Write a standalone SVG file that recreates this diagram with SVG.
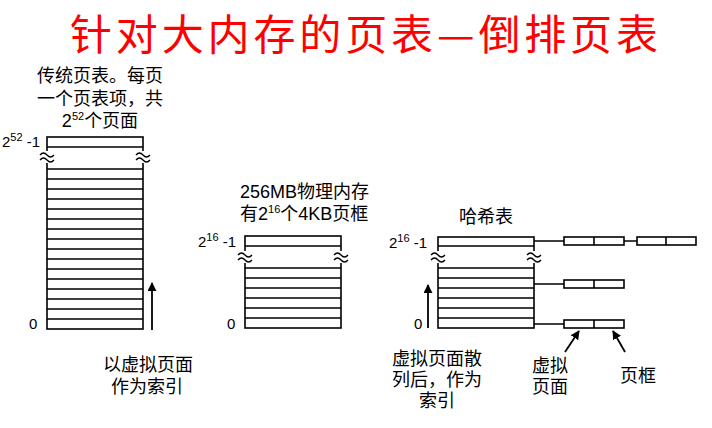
<svg xmlns="http://www.w3.org/2000/svg" width="712" height="428" viewBox="0 0 712 428">
  <defs>
    <style>
      .cjk { font-family: "Liberation Sans", "Noto Sans CJK SC", sans-serif; font-size: 18px; fill: #000; }
      .lbl { font-family: "Liberation Sans", "Noto Sans CJK SC", sans-serif; font-size: 15px; fill: #000; }
      .sup { font-size: 11px; }
      .title { font-family: "Noto Sans CJK SC", sans-serif; font-size: 42px; fill: #ff0000; }
      .tbl { fill: #fff; stroke: #000; stroke-width: 1.6; }
      .row { stroke: #000; stroke-width: 1.6; fill: none; }
      .wave { fill: none; stroke: #000; stroke-width: 1.3; }
      .wavebg { fill: #fff; stroke: none; }
      .link { stroke: #000; stroke-width: 1.3; fill: none; }
      .arrow { stroke: #000; stroke-width: 1.8; fill: none; marker-end: url(#head); }
    </style>
    <marker id="head" viewBox="0 0 10 10" refX="9" refY="5" markerWidth="5" markerHeight="5" orient="auto" markerUnits="strokeWidth">
      <path d="M0,0 L10,5 L0,10 Z" fill="#000"/>
    </marker>
    <!-- break symbol drawn over a table side -->
    <g id="brk">
      <rect class="wavebg" x="-8" y="-6" width="16" height="12"/>
      <path class="wave" d="M-7,-2 q3.5,-4 7,0 t7,0 M-7,3 q3.5,-4 7,0 t7,0"/>
    </g>
  </defs>

  <rect width="712" height="428" fill="#fff"/>

  <!-- heading -->
  <g id="title">
    <text class="title" x="364" y="50" text-anchor="middle" textLength="588" lengthAdjust="spacing">针对大内存的页表—倒排页表</text>
  </g>

  <!-- conventional page table -->
  <g id="table-conventional">
    <text class="cjk" x="100" y="82" text-anchor="middle">传统页表。每页</text>
    <text class="cjk" x="100" y="105" text-anchor="middle">一个页表项，共</text>
    <text class="cjk" x="100" y="127" text-anchor="middle">2<tspan class="sup" dy="-7">52</tspan><tspan dy="7">个页面</tspan></text>
    <rect class="tbl" x="47" y="137" width="96" height="192"/>
    <path class="row" d="M47,147H143 M47,169H143 M47,179H143 M47,189H143 M47,199H143 M47,209H143 M47,219H143 M47,229H143 M47,239H143 M47,249H143 M47,259H143 M47,269H143 M47,279H143 M47,289H143 M47,299H143 M47,309H143 M47,319H143"/>
    <use href="#brk" x="47" y="157"/>
    <use href="#brk" x="143" y="157"/>
    <text class="lbl" x="2" y="147">2<tspan class="sup" dy="-6">52</tspan><tspan dy="6"> -1</tspan></text>
    <text class="lbl" x="29" y="329">0</text>
    <text class="cjk" x="148" y="371" text-anchor="middle">以虚拟页面</text>
    <text class="cjk" x="147" y="393" text-anchor="middle">作为索引</text>
  </g>

  <!-- physical memory frames -->
  <g id="table-physical">
    <text class="cjk" x="240" y="198">256MB物理内存</text>
    <text class="cjk" x="240" y="220">有2<tspan class="sup" dy="-7">16</tspan><tspan dy="7">个4KB页框</tspan></text>
    <rect class="tbl" x="245" y="236" width="96" height="92"/>
    <path class="row" d="M245,246H341 M245,268H341 M245,278H341 M245,288H341 M245,298H341 M245,308H341 M245,318H341"/>
    <use href="#brk" x="245" y="257"/>
    <use href="#brk" x="341" y="257"/>
    <text class="lbl" x="198" y="247">2<tspan class="sup" dy="-6">16</tspan><tspan dy="6"> -1</tspan></text>
    <text class="lbl" x="227" y="329">0</text>
  </g>

  <!-- hash table -->
  <g id="table-hash">
    <text class="cjk" x="486" y="223" text-anchor="middle">哈希表</text>
    <rect class="tbl" x="438" y="237" width="96" height="91"/>
    <path class="row" d="M438,246H534 M438,268H534 M438,278H534 M438,288H534 M438,298H534 M438,308H534 M438,318H534"/>
    <use href="#brk" x="438" y="257"/>
    <use href="#brk" x="534" y="257"/>
    <text class="lbl" x="389" y="248">2<tspan class="sup" dy="-6">16</tspan><tspan dy="6"> -1</tspan></text>
    <text class="lbl" x="414" y="329">0</text>
    <text class="cjk" x="437" y="365" text-anchor="middle">虚拟页面散</text>
    <text class="cjk" x="437" y="386" text-anchor="middle">列后，作为</text>
    <text class="cjk" x="437" y="407" text-anchor="middle">索引</text>
  </g>

  <!-- chain entries: virtual page | page frame -->
  <g id="chain-1a">
    <rect class="tbl" x="564" y="237" width="60" height="8"/>
    <path class="row" d="M594,237V245"/>
  </g>
  <g id="chain-1b">
    <rect class="tbl" x="637" y="237" width="59" height="8"/>
    <path class="row" d="M666,237V245"/>
  </g>
  <g id="chain-2">
    <rect class="tbl" x="564" y="280" width="60" height="8"/>
    <path class="row" d="M594,280V288"/>
  </g>
  <g id="chain-3">
    <rect class="tbl" x="564" y="320" width="60" height="8"/>
    <path class="row" d="M594,320V328"/>
    <text class="cjk" x="550" y="372" text-anchor="middle">虚拟</text>
    <text class="cjk" x="550" y="393" text-anchor="middle">页面</text>
    <text class="cjk" x="638" y="382" text-anchor="middle">页框</text>
  </g>

  <!-- connectors -->
  <g id="connectors">
    <path class="link" d="M534,241H564 M624,241H637 M534,284H564 M534,324H564"/>
    <path class="arrow" d="M152,330V283"/>
    <path class="arrow" d="M428,328V285"/>
    <path class="arrow" d="M565,352L579,331"/>
    <path class="arrow" d="M625,352L613,331"/>
  </g>
</svg>
